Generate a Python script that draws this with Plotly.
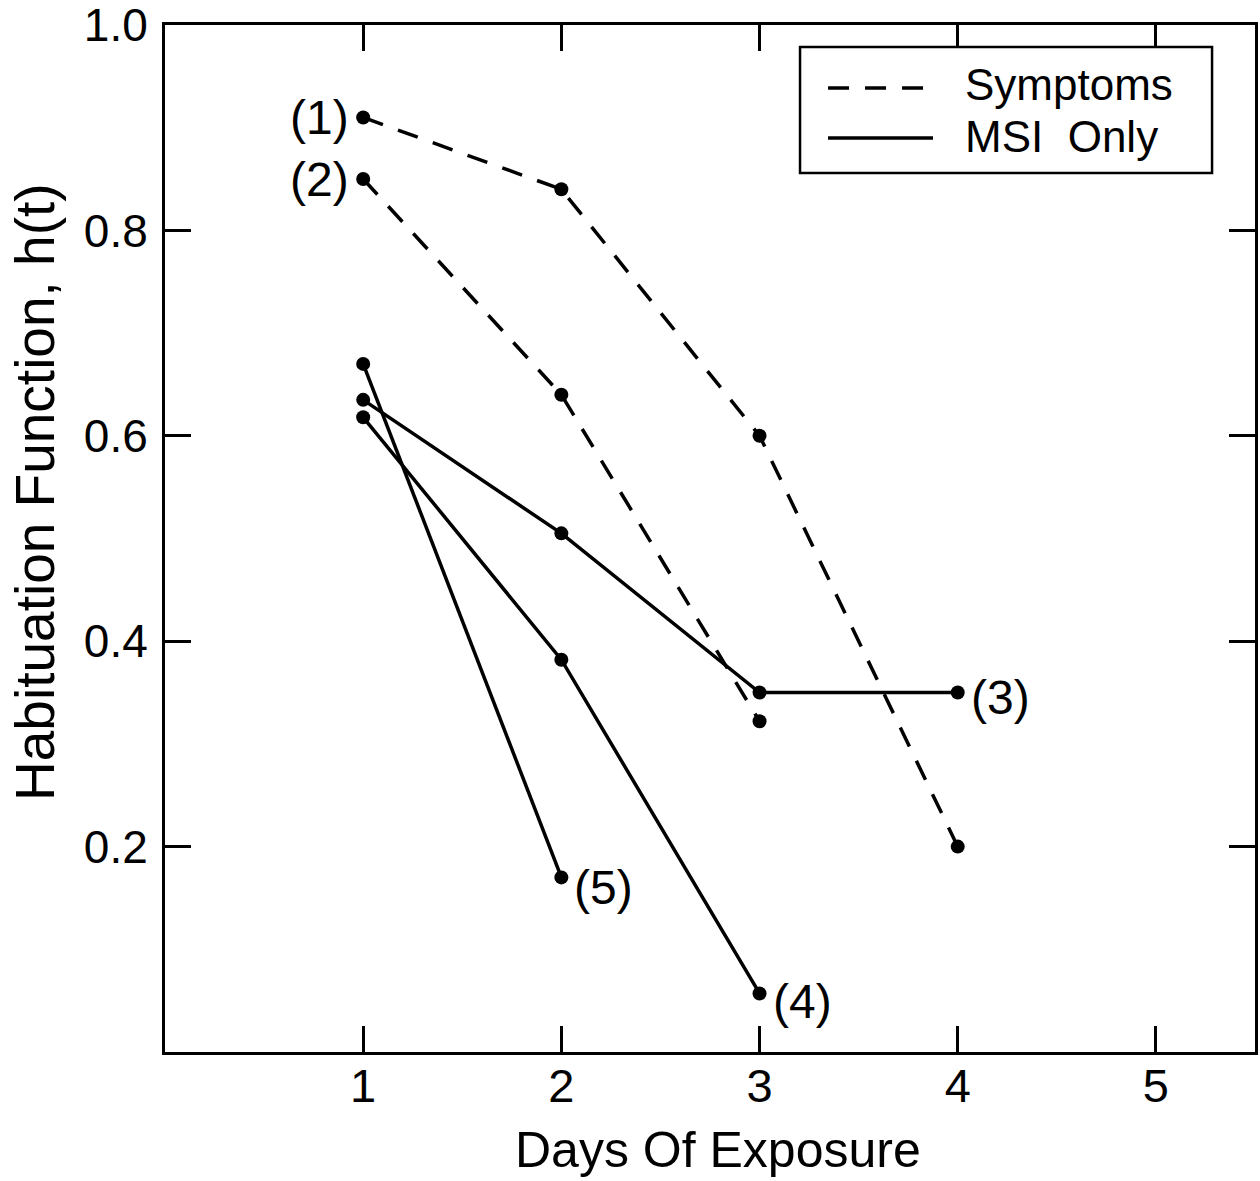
import plotly.graph_objects as go

# Days of exposure for each subject curve
days_1 = [1, 2, 3, 4]
days_2 = [1, 2, 3]
days_3 = [1, 2, 3, 4]
days_4 = [1, 2, 3]
days_5 = [1, 2]

# Habituation function values h(t)
h_1 = [0.91, 0.84, 0.60, 0.20]
h_2 = [0.85, 0.64, 0.322]
h_3 = [0.635, 0.505, 0.35, 0.35]
h_4 = [0.618, 0.382, 0.057]
h_5 = [0.67, 0.17]

curve_labels = ["(1)", "(2)", "(3)", "(4)", "(5)"]
groups = ["Symptoms", "Symptoms", "MSI  Only", "MSI  Only", "MSI  Only"]
legend_names = ["Symptoms", "MSI  Only"]

x_ticks = [1, 2, 3, 4, 5]
y_ticks = [0.2, 0.4, 0.6, 0.8, 1.0]

x_title = "Days Of Exposure"
y_title = "Habituation Function, h(t)"

FONT = "Liberation Sans, Arial, Helvetica, sans-serif"
DASH = "21px,16px"
LW = 3.5

series = [
    (days_1, h_1), (days_2, h_2), (days_3, h_3), (days_4, h_4), (days_5, h_5)
]

fig = go.Figure()
for (xs, ys), grp in zip(series, groups):
    fig.add_trace(go.Scatter(
        x=xs, y=ys, mode="lines+markers",
        line=dict(color="black", width=LW, dash=DASH if grp == "Symptoms" else "solid"),
        marker=dict(color="black", size=14),
        showlegend=False, hoverinfo="skip",
    ))

# Curve number labels
label_pos = [
    (days_1[0], h_1[0], "right", 0),
    (days_2[0], h_2[0], "right", 0),
    (days_3[-1], h_3[-1], "left", -5),
    (days_4[-1], h_4[-1], "left", -8),
    (days_5[-1], h_5[-1], "left", -10),
]
for text, (x, y, side, dy) in zip(curve_labels, label_pos):
    fig.add_annotation(
        x=x, y=y, text=text, showarrow=False,
        xanchor=side, yanchor="middle",
        xshift=-12 if side == "right" else 11, yshift=dy,
        font=dict(family=FONT, size=48, color="black"),
    )

# Boxed key in the upper right of the plot area
box = dict(x0=0.5826, x1=0.9606, y0=0.8559, y1=0.9786)
fig.add_shape(type="rect", xref="paper", yref="paper", **box,
              line=dict(color="black", width=2.5), fillcolor="white", layer="above")
key_rows = [(0.9386, 0.9416, DASH), (0.8900, 0.8910, "solid")]
for name, (ly, ty, dash) in zip(legend_names, key_rows):
    fig.add_shape(type="line", xref="paper", yref="paper",
                  x0=0.6083, x1=0.7046, y0=ly, y1=ly,
                  line=dict(color="black", width=LW, dash=dash), layer="above")
    fig.add_annotation(xref="paper", yref="paper", x=0.7321, y=ty,
                       text=name, showarrow=False, xanchor="left", yanchor="middle",
                       font=dict(family=FONT, size=44, color="black"))

# Axis titles
fig.add_annotation(xref="paper", yref="paper", x=0.5073, y=-0.095,
                   text=x_title, showarrow=False, xanchor="center", yanchor="middle",
                   font=dict(family=FONT, size=50, color="black"))
fig.add_annotation(xref="paper", yref="paper", x=-0.1193, y=0.5453,
                   text=y_title, showarrow=False, textangle=-90,
                   xanchor="center", yanchor="middle",
                   font=dict(family=FONT, size=55, color="black"))

axis_common = dict(
    showgrid=False, zeroline=False, showline=True, linecolor="black", linewidth=3,
    mirror="ticks", ticks="inside", ticklen=26, tickwidth=3, tickcolor="black",
    ticklabeloverflow="allow", automargin=False,
)

fig.update_layout(
    width=1260, height=1181,
    margin=dict(l=165, r=5, t=25, b=129, autoexpand=False),
    plot_bgcolor="white", paper_bgcolor="white",
    font=dict(family=FONT, color="black"),
    showlegend=False,
    xaxis=dict(range=[0, 5.5], tickvals=x_ticks, ticktext=[str(v) for v in x_ticks],
               ticklabelstandoff=-9, tickfont=dict(family=FONT, size=47, color="black"),
               **axis_common),
    yaxis=dict(range=[0, 1.0], tickvals=y_ticks, ticktext=[f"{v:.1f}" for v in y_ticks],
               ticklabelstandoff=5, tickfont=dict(family=FONT, size=46, color="black"),
               **axis_common),
)

fig.write_html("out.html")
